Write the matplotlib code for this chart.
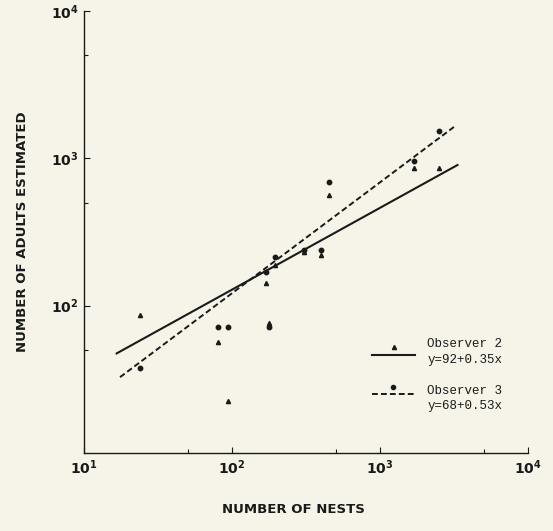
import numpy as np
import matplotlib.pyplot as plt
from matplotlib.ticker import FixedLocator, NullFormatter

# Nest counts and adult estimates
NESTS = [24, 80, 94, 170, 178, 194, 305, 397, 455, 1690, 2500]
OBS2 = [87, 56.5, 22.4, 142, 76, 190, 233, 222, 560, 865, 855]
OBS3 = [38, 72, 71.5, 169, 72, 214, 240, 239, 689, 960, 1531]

# fitted lines, end points (log-log)
FIT2_X = [16.6, 3334]
FIT2_Y = [47.4, 902]
FIT3_X = [17.5, 3245]
FIT3_Y = [32.7, 1671]

LABEL2 = ["Observer 2", "y=92+0.35x"]
LABEL3 = ["Observer 3", "y=68+0.53x"]

BG = '#f6f4e9'
INK = '#1a1a1a'
MONO = 'Liberation Mono'
DASH = (0, (3, 1.6))

plt.rcParams['mathtext.fontset'] = 'dejavusans'


def decade_label(n):
    return r'$\mathbf{10^{%d}}$' % n


def draw_legend(ax):
    """Hand-made key: marker sits above the line sample"""
    tr = ax.transAxes
    ax.plot([0.649, 0.745], [0.222, 0.222], color=INK, lw=1.5, transform=tr)
    ax.plot([0.698], [0.240], marker='^', ms=3, color=INK, transform=tr)
    ax.text(0.773, 0.247, LABEL2[0], transform=tr, family=MONO, fontsize=9,
            color=INK, va='center')
    ax.text(0.773, 0.211, LABEL2[1], transform=tr, family=MONO, fontsize=9,
            color=INK, va='center')
    ax.plot([0.649, 0.745], [0.133, 0.133], color=INK, lw=1.4, ls=DASH,
            transform=tr)
    ax.plot([0.696], [0.150], marker='o', ms=3, color=INK, transform=tr)
    ax.text(0.773, 0.140, LABEL3[0], transform=tr, family=MONO, fontsize=9,
            color=INK, va='center')
    ax.text(0.773, 0.106, LABEL3[1], transform=tr, family=MONO, fontsize=9,
            color=INK, va='center')


def main():
    fig = plt.figure(figsize=(5.53, 5.31), dpi=100, facecolor=BG)
    ax = fig.add_axes([0.152, 0.147, 0.803, 0.832], facecolor=BG)
    ax.set_xscale('log')
    ax.set_yscale('log')
    ax.set_xlim(10, 1e4)
    ax.set_ylim(10, 1e4)

    ax.plot(FIT2_X, FIT2_Y, color=INK, lw=1.5)
    ax.plot(FIT3_X, FIT3_Y, color=INK, lw=1.4, ls=DASH)
    ax.plot(NESTS, OBS2, ls='none', marker='^', ms=3, color=INK)
    ax.plot(NESTS, OBS3, ls='none', marker='o', ms=3.2, color=INK)

    for side in ['top', 'right']:
        ax.spines[side].set_visible(False)
    for side in ['left', 'bottom']:
        ax.spines[side].set_color(INK)
        ax.spines[side].set_linewidth(1.0)

    ax.xaxis.set_major_locator(FixedLocator([10, 100, 1000, 10000]))
    ax.yaxis.set_major_locator(FixedLocator([100, 1000, 10000]))
    ax.xaxis.set_minor_locator(FixedLocator([50, 500, 5000]))
    ax.yaxis.set_minor_locator(FixedLocator([50, 500, 5000]))
    ax.xaxis.set_minor_formatter(NullFormatter())
    ax.yaxis.set_minor_formatter(NullFormatter())
    ax.set_xticklabels([decade_label(n) for n in [1, 2, 3, 4]])
    ax.set_yticklabels([decade_label(n) for n in [2, 3, 4]])
    ax.tick_params(which='major', direction='in', length=4, width=0.8,
                   labelsize=10, colors=INK, pad=4)
    ax.tick_params(which='minor', direction='in', length=3, width=0.8,
                   colors=INK)

    draw_legend(ax)

    fig.text(0.53, 0.04, 'NUMBER OF NESTS', ha='center', va='center',
             fontsize=9.5, fontweight='bold', color=INK)
    fig.text(0.04, 0.563, 'NUMBER OF ADULTS ESTIMATED', ha='center',
             va='center', rotation=90, fontsize=9.5, fontweight='bold',
             color=INK)

    fig.savefig('out.png', dpi=100, facecolor=BG)


main()
